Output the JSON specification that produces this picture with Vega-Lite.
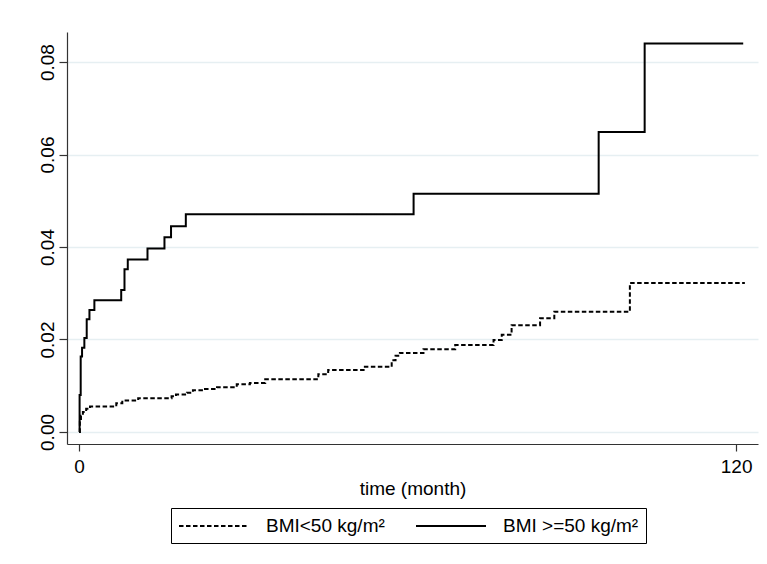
{
  "$schema": "https://vega.github.io/schema/vega-lite/v6.json",
  "width": 691,
  "height": 412,
  "autosize": {"type": "none"},
  "padding": {"left": 67, "top": 32, "right": 9, "bottom": 120},
  "background": "white",
  "config": {
    "view": {"stroke": null},
    "font": "Liberation Sans",
    "axis": {"labelFont": "Liberation Sans", "titleFont": "Liberation Sans", "labelColor": "black", "titleColor": "black", "domainColor": "#333333", "tickColor": "#333333", "domainWidth": 1.2, "tickWidth": 1.2}
  },
  "data": {
    "values": [
      {"time": 0, "risk": 0, "group": "BMI<50 kg/m²"},
      {"time": 0.15, "risk": 0.0022, "group": "BMI<50 kg/m²"},
      {"time": 0.35, "risk": 0.0035, "group": "BMI<50 kg/m²"},
      {"time": 0.7, "risk": 0.0043, "group": "BMI<50 kg/m²"},
      {"time": 1.3, "risk": 0.005, "group": "BMI<50 kg/m²"},
      {"time": 2.0, "risk": 0.0055, "group": "BMI<50 kg/m²"},
      {"time": 6.8, "risk": 0.0062, "group": "BMI<50 kg/m²"},
      {"time": 7.9, "risk": 0.0068, "group": "BMI<50 kg/m²"},
      {"time": 10.8, "risk": 0.0073, "group": "BMI<50 kg/m²"},
      {"time": 16.9, "risk": 0.0077, "group": "BMI<50 kg/m²"},
      {"time": 17.7, "risk": 0.0081, "group": "BMI<50 kg/m²"},
      {"time": 19.7, "risk": 0.0085, "group": "BMI<50 kg/m²"},
      {"time": 20.8, "risk": 0.009, "group": "BMI<50 kg/m²"},
      {"time": 23.0, "risk": 0.0093, "group": "BMI<50 kg/m²"},
      {"time": 25.2, "risk": 0.0097, "group": "BMI<50 kg/m²"},
      {"time": 28.8, "risk": 0.0103, "group": "BMI<50 kg/m²"},
      {"time": 31.2, "risk": 0.0106, "group": "BMI<50 kg/m²"},
      {"time": 34.0, "risk": 0.0114, "group": "BMI<50 kg/m²"},
      {"time": 43.7, "risk": 0.0125, "group": "BMI<50 kg/m²"},
      {"time": 45.5, "risk": 0.0134, "group": "BMI<50 kg/m²"},
      {"time": 52.2, "risk": 0.0141, "group": "BMI<50 kg/m²"},
      {"time": 57.1, "risk": 0.0155, "group": "BMI<50 kg/m²"},
      {"time": 57.8, "risk": 0.0165, "group": "BMI<50 kg/m²"},
      {"time": 58.6, "risk": 0.0171, "group": "BMI<50 kg/m²"},
      {"time": 62.9, "risk": 0.0179, "group": "BMI<50 kg/m²"},
      {"time": 68.7, "risk": 0.0188, "group": "BMI<50 kg/m²"},
      {"time": 75.7, "risk": 0.0199, "group": "BMI<50 kg/m²"},
      {"time": 77.2, "risk": 0.021, "group": "BMI<50 kg/m²"},
      {"time": 79.0, "risk": 0.0231, "group": "BMI<50 kg/m²"},
      {"time": 84.2, "risk": 0.0246, "group": "BMI<50 kg/m²"},
      {"time": 86.8, "risk": 0.026, "group": "BMI<50 kg/m²"},
      {"time": 100.6, "risk": 0.0322, "group": "BMI<50 kg/m²"},
      {"time": 121.6, "risk": 0.0322, "group": "BMI<50 kg/m²"},
      {"time": 0, "risk": 0, "group": "BMI >=50 kg/m²"},
      {"time": 0.1, "risk": 0.008, "group": "BMI >=50 kg/m²"},
      {"time": 0.3, "risk": 0.0163, "group": "BMI >=50 kg/m²"},
      {"time": 0.55, "risk": 0.0182, "group": "BMI >=50 kg/m²"},
      {"time": 0.97, "risk": 0.0203, "group": "BMI >=50 kg/m²"},
      {"time": 1.4, "risk": 0.0244, "group": "BMI >=50 kg/m²"},
      {"time": 1.9, "risk": 0.0264, "group": "BMI >=50 kg/m²"},
      {"time": 2.8, "risk": 0.0285, "group": "BMI >=50 kg/m²"},
      {"time": 7.7, "risk": 0.0307, "group": "BMI >=50 kg/m²"},
      {"time": 8.3, "risk": 0.0352, "group": "BMI >=50 kg/m²"},
      {"time": 8.9, "risk": 0.0373, "group": "BMI >=50 kg/m²"},
      {"time": 12.5, "risk": 0.0397, "group": "BMI >=50 kg/m²"},
      {"time": 15.6, "risk": 0.0421, "group": "BMI >=50 kg/m²"},
      {"time": 16.8, "risk": 0.0445, "group": "BMI >=50 kg/m²"},
      {"time": 19.5, "risk": 0.0471, "group": "BMI >=50 kg/m²"},
      {"time": 61.1, "risk": 0.0515, "group": "BMI >=50 kg/m²"},
      {"time": 94.9, "risk": 0.0649, "group": "BMI >=50 kg/m²"},
      {"time": 103.3, "risk": 0.084, "group": "BMI >=50 kg/m²"},
      {"time": 121.3, "risk": 0.084, "group": "BMI >=50 kg/m²"}
    ]
  },
  "mark": {"type": "line", "interpolate": "step-after", "color": "black", "strokeWidth": 2},
  "encoding": {
    "x": {
      "field": "time", "type": "quantitative",
      "scale": {"domain": [-2.2, 124], "nice": false, "zero": false},
      "axis": {"values": [0, 120], "format": "d", "grid": false, "title": "time (month)", "labelFontSize": 19, "titleFontSize": 19, "titleFontWeight": "normal", "tickSize": 7, "labelPadding": 6, "titlePadding": 3}
    },
    "y": {
      "field": "risk", "type": "quantitative",
      "scale": {"domain": [-0.0026, 0.0865], "nice": false, "zero": false},
      "axis": {"values": [0, 0.02, 0.04, 0.06, 0.08], "format": ".2f", "title": null, "grid": true, "gridColor": "#E6EFF2", "gridWidth": 1.5, "labelAngle": 270, "labelAlign": "center", "labelBaseline": "bottom", "labelFontSize": 19, "tickSize": 8, "labelPadding": 2}
    },
    "strokeDash": {
      "field": "group", "type": "nominal",
      "scale": {"domain": ["BMI<50 kg/m²", "BMI >=50 kg/m²"], "range": [[4.5, 2.5], [1, 0]]},
      "legend": {"title": null, "orient": "none", "legendX": 104, "legendY": 476, "direction": "horizontal", "strokeColor": "black", "padding": 7, "symbolType": "M-1,0H6", "symbolSize": 400, "symbolStrokeWidth": 2, "symbolStrokeColor": "black", "labelFontSize": 19, "labelColor": "black", "labelFont": "Liberation Sans", "labelOffset": 66, "columnPadding": 27, "cornerRadius": 0}
    }
  }
}
